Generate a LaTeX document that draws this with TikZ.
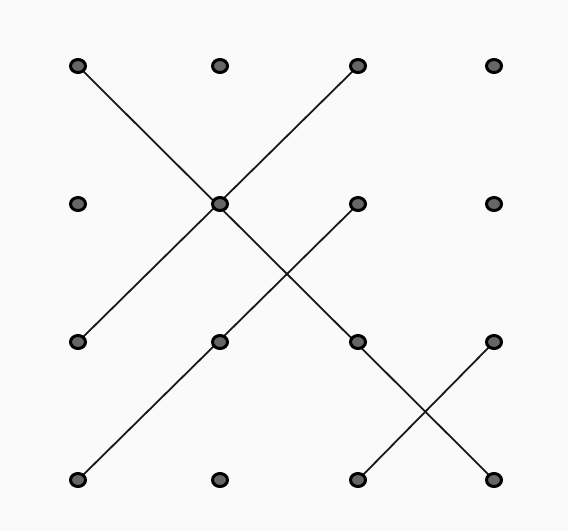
\documentclass[tikz,border=0pt]{standalone}
\usetikzlibrary{shapes.geometric,backgrounds}
\begin{document}
\begin{tikzpicture}[x=1pt,y=-1pt,
  dot/.style={ellipse,draw=black,line width=3pt,fill=black!60,minimum width=15pt,minimum height=13pt,inner sep=0pt},
  link/.style={draw=black!90,line width=1.8pt}]
\useasboundingbox (0,0) rectangle (568,531);
\foreach \i/\x in {0/78,1/220,2/358,3/494}{
  \foreach \j/\y in {0/66,1/204,2/342,3/480}{
    \node[dot] (n\i\j) at (\x,\y) {};
  }
}
\begin{scope}[on background layer]
\fill[black!2] (0,0) rectangle (568,531);
\draw[link] (n00.center) -- (n33.center);
\draw[link] (n20.center) -- (n02.center);
\draw[link] (n21.center) -- (n03.center);
\draw[link] (n32.center) -- (n23.center);
\end{scope}
\end{tikzpicture}
\end{document}
